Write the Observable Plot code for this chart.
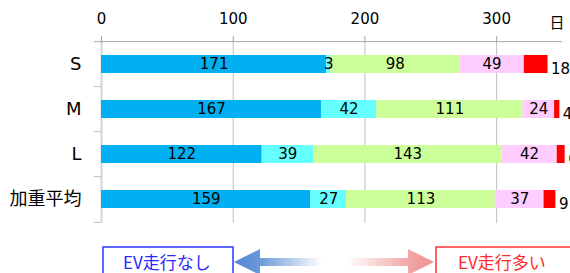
<!DOCTYPE html>
<html>
<head>
<meta charset="utf-8">
<script src="https://cdn.jsdelivr.net/npm/d3@7"></script>
<script src="https://cdn.jsdelivr.net/npm/@observablehq/plot@0.6"></script>
<style>
  html, body { margin: 0; padding: 0; background: #fff; }
  #chart { width: 570px; height: 273px; overflow: hidden; position: relative; }
  svg { display: block; }
</style>
</head>
<body>
<div id="chart"></div>
<script>
// ---- data ----
const categories = ["S", "M", "L", "加重平均"];
const seriesNames = ["区分1", "区分2", "区分3", "区分4", "区分5"];
const seriesColors = ["#00B0F0", "#66FFFF", "#CCFF99", "#FFCCFF", "#FF0000"];
const values1 = [171, 167, 122, 159];
const values2 = [3, 42, 39, 27];
const values3 = [98, 111, 143, 113];
const values4 = [49, 24, 42, 37];
const values5 = [18, 4, 6, 9];
const xTicks = [0, 100, 200, 300];
const xMax = 350;
const unitLabel = "日";
const leftLabel = "EV走行なし";
const rightLabel = "EV走行多い";

const allValues = [values1, values2, values3, values4, values5];
const data = seriesNames.flatMap((s, i) =>
  categories.map((c, j) => ({cat: c, series: s, value: allValues[i][j]}))
);
const lastSeries = seriesNames[seriesNames.length - 1];

const FONT = "'DejaVu Sans', 'Noto Sans CJK JP', sans-serif";
const marginTop = 40, marginBottom = 9, marginLeft = 101, marginRight = 8;
const plotHeight = 232;
const step = (plotHeight - marginTop - marginBottom) / categories.length;
const tickLen = 7 / ((570 - marginLeft - marginRight) / xMax);

const plot = Plot.plot({
  width: 570,
  height: plotHeight,
  marginTop, marginBottom, marginLeft, marginRight,
  style: {fontFamily: FONT, fontSize: "15px", color: "#000", background: "#fff", overflow: "visible"},
  x: {domain: [0, xMax], axis: null},
  y: {domain: categories, paddingInner: 0.6, paddingOuter: 0.3, axis: null},
  color: {domain: seriesNames, range: seriesColors},
  marks: [
    Plot.ruleX(xTicks.slice(1), {stroke: "#BFBFBF", strokeWidth: 1}),
    Plot.ruleX([0], {stroke: "#D4D4D4", strokeWidth: 2}),
    Plot.barX(data, Plot.stackX({x: "value", y: "cat", fill: "series"})),
    Plot.text(data, Plot.stackX({
      x: "value", y: "cat",
      text: d => d.series !== lastSeries ? String(d.value) : null,
      fontSize: 15, fill: "#000"
    })),
    Plot.text(data, Plot.stackX2({
      x: "value", y: "cat",
      text: d => d.series === lastSeries ? String(d.value) : null,
      textAnchor: "start", dx: 3, dy: 5, fontSize: 15, fill: "#000"
    })),
    // top axis line (top boundary of first category)
    Plot.ruleY([categories[0]], {y: d => d, x1: -tickLen, x2: xMax, dy: -step / 2, stroke: "#A6A6A6"}),
    // category separator ticks on the left
    Plot.ruleY(categories.slice(1), {y: d => d, x1: -tickLen, x2: 0, dy: -step / 2, stroke: "#BFBFBF"}),
    Plot.ruleY([categories[categories.length - 1]], {y: d => d, x1: -tickLen, x2: 0, dy: step / 2, stroke: "#BFBFBF"}),
    Plot.axisX({anchor: "top", ticks: xTicks, tickSize: 5, tickPadding: 12, fontSize: 15, stroke: "#A6A6A6", label: null}),
    Plot.axisY({anchor: "left", tickSize: 0, tickPadding: 20, fontSize: 18, label: null}),
    Plot.text([unitLabel], {frameAnchor: "top-right", dx: 2, dy: -23, fontSize: 15, fill: "#000"})
  ]
});

const chart = document.getElementById("chart");
chart.appendChild(plot);

// ---- bottom annotation: boxes and arrows ----
const bottom = d3.create("svg").attr("width", 570).attr("height", 41).style("overflow", "hidden");
const defs = bottom.append("defs");
const gl = defs.append("linearGradient").attr("id", "gl").attr("gradientUnits", "userSpaceOnUse")
  .attr("x1", 234).attr("x2", 322).attr("y1", 0).attr("y2", 0);
gl.append("stop").attr("offset", 0).attr("stop-color", "#4F86D3");
gl.append("stop").attr("offset", 0.3).attr("stop-color", "#6C9ADA");
gl.append("stop").attr("offset", 1).attr("stop-color", "#FFFFFF");
const gr = defs.append("linearGradient").attr("id", "gr").attr("gradientUnits", "userSpaceOnUse")
  .attr("x1", 346).attr("x2", 434).attr("y1", 0).attr("y2", 0);
gr.append("stop").attr("offset", 0).attr("stop-color", "#FFFFFF");
gr.append("stop").attr("offset", 0.7).attr("stop-color", "#F2A8A8");
gr.append("stop").attr("offset", 1).attr("stop-color", "#F09090");

const cy = 30;
bottom.append("path")
  .attr("d", `M234,${cy} L260,${cy - 13} L260,${cy - 4} L322,${cy - 4} L322,${cy + 4} L260,${cy + 4} L260,${cy + 13} Z`)
  .attr("fill", "url(#gl)");
bottom.append("path")
  .attr("d", `M434,${cy} L408,${cy - 13} L408,${cy - 4} L346,${cy - 4} L346,${cy + 4} L408,${cy + 4} L408,${cy + 13} Z`)
  .attr("fill", "url(#gr)");

bottom.append("rect").attr("x", 103).attr("y", 15).attr("width", 130).attr("height", 40)
  .attr("fill", "#fff").attr("stroke", "#3333FF").attr("stroke-width", 1.5);
bottom.append("rect").attr("x", 436).attr("y", 15).attr("width", 140).attr("height", 40)
  .attr("fill", "#fff").attr("stroke", "#FF3333").attr("stroke-width", 1.5);
bottom.append("text").attr("x", 123).attr("y", 37).attr("font-family", "'Noto Sans CJK JP', sans-serif")
  .attr("font-size", 17).attr("fill", "#2A2AFF").text(leftLabel);
bottom.append("text").attr("x", 458).attr("y", 37).attr("font-family", "'Noto Sans CJK JP', sans-serif")
  .attr("font-size", 17).attr("fill", "#FF2A2A").text(rightLabel);
chart.appendChild(bottom.node());
</script>
</body>
</html>
